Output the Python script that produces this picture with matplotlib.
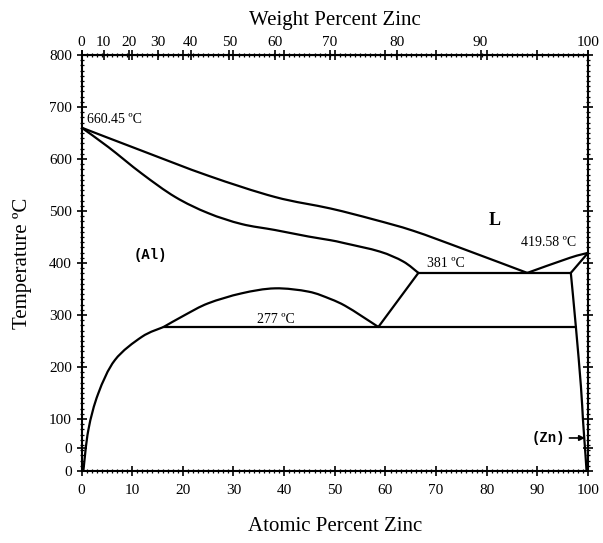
import numpy as np
import matplotlib
matplotlib.use("Agg")
import matplotlib.pyplot as plt
from matplotlib.ticker import MultipleLocator
from matplotlib.path import Path
from matplotlib.patches import PathPatch

# ---- data (atomic % Zn, temperature in degC) ----
liquidus_al_x = [0, 11.9, 25.0, 38.2, 49.1, 57.6, 65.5, 75.4, 88.0]
liquidus_al_t = [660.45, 616, 568, 527, 505, 484, 462, 427, 381]
liquidus_zn_x = [88.0, 96.4, 100]
liquidus_zn_t = [381, 410, 419.58]
solidus_x = [0, 5.3, 11.9, 18.5, 25.0, 31.6, 38.2, 44.8, 49.1, 52.0, 58.9, 63.5, 66.5]
solidus_t = [660.45, 623, 572, 527, 496, 475, 463.5, 451, 444, 438, 422, 403, 381]
gap_x = [16.2, 20.4, 25.0, 31.6, 38.2, 44.8, 49.1, 52.0, 55.3, 58.6]
gap_t = [277, 300, 322.5, 341.7, 351.3, 345, 331, 318, 298, 277]
gap_side_x = [58.6, 66.5]
gap_side_t = [277, 381]
solvus_al_x = [16.2, 11.9, 6.6, 3.3, 1.35, 0.36]
solvus_al_t = [277, 258, 213.5, 149, 79, 0]
zn_solidus_x = [96.6, 100]
zn_solidus_t = [381, 419.58]
zn_solvus_x = [96.6, 97.6, 98.6, 99.0, 99.5, 99.7]
zn_solvus_t = [381, 277, 162, 98, 30, 0]
eutectic_x = [66.5, 96.6]
eutectic_t = [381, 381]
monotectoid_x = [16.2, 97.6]
monotectoid_t = [277, 277]

bottom_ticks = [0, 10, 20, 30, 40, 50, 60, 70, 80, 90, 100]
wt_ticks = [0, 10, 20, 30, 40, 50, 60, 70, 80, 90, 100]
y_ticks = [0, 45, 100, 200, 300, 400, 500, 600, 700, 800]
y_labels = ["0", "0", "100", "200", "300", "400", "500", "600", "700", "800"]

M_ZN, M_AL = 65.38, 26.98


def at2wt(a):
    a = np.asarray(a, dtype=float)
    num = a * M_ZN
    den = a * M_ZN + (100 - a) * M_AL
    return 100 * num / np.where(den == 0, 1, den)


def wt2at(w):
    w = np.asarray(w, dtype=float)
    num = w / M_ZN
    den = w / M_ZN + (100 - w) / M_AL
    return 100 * num / np.where(den == 0, 1, den)


def smooth_path(xs, ys):
    """Smooth Bezier path through the given points (Catmull-Rom style)."""
    p = np.column_stack([xs, ys]).astype(float)
    n = len(p)
    verts = [p[0]]
    codes = [Path.MOVETO]
    for i in range(n - 1):
        p0 = p[i - 1] if i > 0 else p[i]
        p1 = p[i]
        p2 = p[i + 1]
        p3 = p[i + 2] if i + 2 < n else p[i + 1]
        c1 = p1 + (p2 - p0) / 6.0
        c2 = p2 - (p3 - p1) / 6.0
        verts += [c1, c2, p2]
        codes += [Path.CURVE4] * 3
    return Path(verts, codes)


plt.rcParams['font.family'] = ['Liberation Serif', 'DejaVu Serif']

fig = plt.figure(figsize=(6.03, 5.43), dpi=100)
ax = fig.add_axes([0.1352, 0.1326, 0.840, 0.766])

lw = 1.6
for xs, ts in [(liquidus_al_x, liquidus_al_t), (liquidus_zn_x, liquidus_zn_t),
               (solidus_x, solidus_t), (gap_x, gap_t),
               (solvus_al_x, solvus_al_t), (zn_solvus_x, zn_solvus_t)]:
    ax.add_patch(PathPatch(smooth_path(xs, ts), facecolor='none',
                           edgecolor='black', lw=lw, joinstyle='round',
                           capstyle='round'))

for xs, ts in [(gap_side_x, gap_side_t), (zn_solidus_x, zn_solidus_t),
               (eutectic_x, eutectic_t), (monotectoid_x, monotectoid_t)]:
    ax.plot(xs, ts, color='black', lw=lw, solid_capstyle='round',
            solid_joinstyle='round')

ax.set_xlim(0, 100)
ax.set_ylim(0, 800)

ax.set_xticks(bottom_ticks)
ax.xaxis.set_minor_locator(MultipleLocator(1))
ax.set_yticks(y_ticks)
ax.set_yticklabels(y_labels)
ax.yaxis.set_minor_locator(MultipleLocator(10))

ax.tick_params(axis='both', which='major', direction='inout', length=7, width=1.2,
               labelsize=11, top=True, right=True)
ax.tick_params(axis='both', which='minor', direction='inout', length=3.5, width=0.9,
               top=True, right=True)
ax.tick_params(axis='x', which='major', pad=6)
for s in ax.spines.values():
    s.set_linewidth(1.5)

sec = ax.secondary_xaxis('top', functions=(at2wt, wt2at))
sec.set_xticks(wt_ticks)
sec.tick_params(direction='inout', length=7, width=1.2, labelsize=11, pad=1)
sec.xaxis.set_minor_locator(plt.NullLocator())
sec.set_xlabel("Weight Percent Zinc", fontsize=15, labelpad=8)

ax.set_xlabel("Atomic Percent Zinc", fontsize=15, labelpad=14)
ax.set_ylabel("Temperature ºC", fontsize=15, labelpad=12)

ax.text(1.0, 676, "660.45 ºC", fontsize=10, ha='left', va='center')
ax.text(72, 400, "381 ºC", fontsize=10, ha='center', va='center')
ax.text(92.3, 439, "419.58 ºC", fontsize=10, ha='center', va='center')
ax.text(38.4, 292, "277 ºC", fontsize=10, ha='center', va='center')
ax.text(13.5, 415, "(Al)", fontsize=10, ha='center', va='center',
        family='Liberation Mono', weight='bold')
ax.text(81.6, 481, "L", fontsize=13, ha='center', va='center', weight='bold')
ax.annotate("(Zn)", xy=(99.4, 63.5), xytext=(95.5, 63.5), fontsize=10,
            ha='right', va='center', family='Liberation Mono', weight='bold',
            arrowprops=dict(arrowstyle='-|>', color='black', lw=1.2,
                            shrinkA=1, shrinkB=0, mutation_scale=8))

fig.savefig("out.png", dpi=100)
